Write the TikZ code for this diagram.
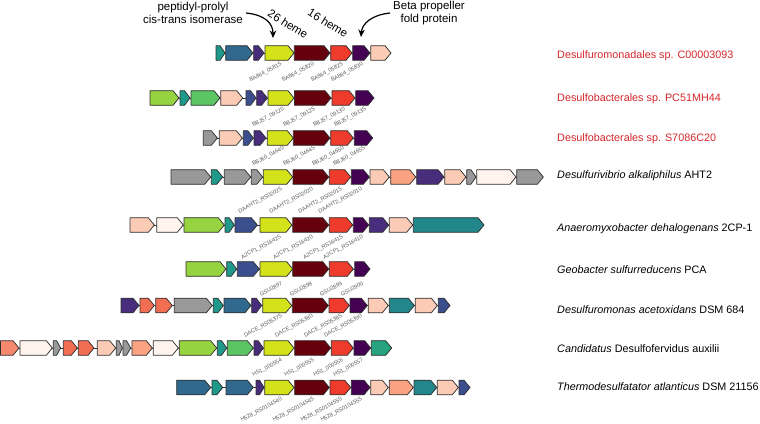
\documentclass[tikz,border=0pt]{standalone}
\usepackage{fontspec}
\setmainfont{Liberation Sans}
\usetikzlibrary{arrows.meta}
\definecolor{cteal}{HTML}{1F9A8A}
\definecolor{cteal2}{HTML}{21878A}
\definecolor{ctealgreen}{HTML}{27A37F}
\definecolor{csteel}{HTML}{31688E}
\definecolor{cnavy}{HTML}{3B4F8F}
\definecolor{cpurple}{HTML}{472D7B}
\definecolor{cdpurple}{HTML}{440154}
\definecolor{cyellow}{HTML}{D4E21A}
\definecolor{cmaroon}{HTML}{67000D}
\definecolor{cred}{HTML}{EF3B2C}
\definecolor{cpeach}{HTML}{FCCBB6}
\definecolor{csalmon}{HTML}{FBA283}
\definecolor{ccoral}{HTML}{F26E52}
\definecolor{ccoralA}{HTML}{F4896D}
\definecolor{clinen}{HTML}{FFF3EE}
\definecolor{cgray}{HTML}{999999}
\definecolor{clime}{HTML}{96D340}
\definecolor{cgreen}{HTML}{5BC563}
\definecolor{ctxtred}{HTML}{D6262B}
\definecolor{coutline}{HTML}{303030}
\newcommand\gn[4]{%
  \pgfmathsetmacro\ghead{min(6,0.55*(#2-#1))}%
  \draw[gene,fill=#4] (#1,#3-7.3) -- ({#2-\ghead},#3-7.3) -- (#2,#3) -- ({#2-\ghead},#3+7.3) -- (#1,#3+7.3) -- cycle;}
\newcommand\grow[2]{\foreach \a/\b/\c in {#2}{\gn{\a}{\b}{#1}{\c}}}
\tikzset{
  gene/.style={draw=coutline,line width=0.75pt,line join=round},
  backbone/.style={draw=coutline,line width=0.6pt},
  locus/.style={font=\fontsize{5.6}{6}\selectfont,text=black!65,inner sep=0pt,anchor=east,rotate=28},
  species/.style={font=\fontsize{10.8}{12}\selectfont,anchor=west,inner sep=0pt},
  redsp/.style={species,text=ctxtred},
  topnote/.style={font=\fontsize{11.5}{13}\selectfont,align=center,inner sep=0pt},
  curvarrow/.style={line width=1.2pt,-{Stealth[length=7.5pt,width=6.5pt]}},
}
\begin{document}
\begin{tikzpicture}[x=1pt,y=-1pt]
\useasboundingbox (0,0) rectangle (760,423);
% top annotations
\node[topnote] (ppi) at (193,13) {peptidyl-prolyl\\cis-trans isomerase};
\node[topnote] (beta) at (429,13) {Beta propeller\\fold protein};
\node[topnote,rotate=-32] (h26) at (288,24) {26 heme};
\node[topnote,rotate=-32] (h16) at (328,23) {16 heme};
\coordinate (ppitip) at (273,38);
\coordinate (betatip) at (361,37);
\draw[curvarrow] ([xshift=3pt]ppi.east) .. controls (266,15) and (273,24) .. (ppitip);
\draw[curvarrow] ([xshift=-3pt]beta.west) .. controls (371,15) and (362,24) .. (betatip);
% row 1
\draw[backbone] (216,53) -- (391,53);
\grow{53}{216/225/cteal, 225.7/253/csteel, 253.7/264/cpurple, 265/294/cyellow, 294.3/330/cmaroon, 330.7/352/cred, 352.7/370/cdpurple, 370.7/391/cpeach}
\foreach \x/\t [count=\i] in {281.5/BA864\_05815, 314/BA864\_05820, 343/BA864\_05825, 363/BA864\_05830}
  \node[locus] (la\i) at (\x,64) {\t};
\node[redsp] (sp1) at (557,56) {Desulfuromonadales sp. C00003093};
% row 2
\draw[backbone] (150,98) -- (374,98);
\grow{98}{150/179/clime, 180/190/cteal, 191/220/cgreen, 220.7/242.7/cpeach, 246/256/cnavy, 256.7/267.3/cpurple, 268/294/cyellow, 294.5/331/cmaroon, 332/355/cred, 355.7/374/cdpurple}
\foreach \x/\t [count=\i] in {284/BBJ57\_09120, 315/BBJ57\_09125, 345/BBJ57\_09130, 366/BBJ57\_09135}
  \node[locus] (lb\i) at (\x,109) {\t};
\node[redsp] (sp2) at (557,99) {Desulfobacterales sp. PC51MH44};
% row 3
\draw[backbone] (203.3,138) -- (372.7,138);
\grow{138}{203.3/217.3/cgray, 219.3/242.3/cpeach, 243.3/253.3/cnavy, 254/266/cpurple, 267.3/293.3/cyellow, 293.3/330/cmaroon, 330.7/353.3/cred, 354.3/372.7/cdpurple}
\foreach \x/\t [count=\i] in {284/BBJ60\_04640, 315/BBJ60\_04645, 344/BBJ60\_04650, 365/BBJ60\_04655}
  \node[locus] (lc\i) at (\x,148) {\t};
\node[redsp] (sp3) at (557,139) {Desulfobacterales sp. S7086C20};
% row 4
\draw[backbone] (171,177) -- (543.3,177);
\grow{177}{171/210.7/cgray, 211.3/222.7/cteal, 224.3/250.7/cgray, 251.3/262.7/cgray, 263.3/292.7/cyellow, 293/328.7/cmaroon, 329.3/350.7/cred, 351.3/369.3/cdpurple, 370/389.3/cpeach, 390.7/415.7/csalmon, 416.7/444/cpurple, 444.7/466/cpeach, 466.7/476/cgray, 476.7/516/clinen, 516.7/543.3/cgray}
\foreach \x/\t [count=\i] in {282/DAAHT2\_RS02025, 313/DAAHT2\_RS02020, 342/DAAHT2\_RS02015, 362/DAAHT2\_RS02010}
  \node[locus] (ld\i) at (\x,189) {\t};
\node[species] (sp4) at (557,176) {\textit{Desulfurivibrio alkaliphilus} AHT2};
% row 5
\draw[backbone] (130,225) -- (484,225);
\grow{225}{130/154.3/cpeach, 156.7/183.3/clinen, 184/224.3/clime, 225/234.3/cteal, 235/257.3/cnavy, 260/292/cyellow, 292.7/328.7/cmaroon, 329.3/352.7/cred, 353.3/368.7/cdpurple, 369.3/388.7/cpurple, 389.3/412.7/cpeach, 413.3/484/cteal2}
\foreach \x/\t [count=\i] in {281/A2CP1\_RS16425, 313/A2CP1\_RS16420, 343/A2CP1\_RS16415, 363/A2CP1\_RS16410}
  \node[locus] (le\i) at (\x,237) {\t};
\node[species] (sp5) at (557,229) {\textit{Anaeromyxobacter dehalogenans} 2CP-1};
% row 6
\draw[backbone] (186,269) -- (370,269);
\grow{269}{186/226/clime, 226.7/236.7/cteal, 237.3/259.3/cnavy, 260/292.7/cyellow, 292.7/328.7/cmaroon, 329.3/353.3/cred, 354.7/370/cdpurple}
\foreach \x/\t [count=\i] in {282/GSU2897, 312/GSU2898, 342/GSU2899, 363/GSU2900}
  \node[locus] (lf\i) at (\x,283) {\t};
\node[species] (sp6) at (557,270) {\textit{Geobacter sulfurreducens} PCA};
% row 7
\draw[backbone] (121,305.5) -- (450,305.5);
\grow{305.5}{121/139/cpurple, 140/154.3/ccoral, 155.7/172.3/ccoral, 174.3/212.3/cgray, 213.3/223.3/cteal, 224/251/csteel, 251.7/261.7/cpurple, 262.7/291.7/cyellow, 292.3/328.3/cmaroon, 329/349.3/cred, 350/367.3/cdpurple, 368.3/388.3/cpeach, 389.3/414.3/cteal2, 415.3/437.3/cpeach, 438.3/450/cnavy}
\foreach \x/\t [count=\i] in {282/DACE\_RS05375, 313/DACE\_RS05380, 342/DACE\_RS05385, 362/DACE\_RS05390}
  \node[locus] (lg\i) at (\x,316) {\t};
\node[species] (sp7) at (557,310) {\textit{Desulfuromonas acetoxidans} DSM 684};
% row 8
\draw[backbone] (0.5,348) -- (391.7,348);
\grow{348}{0.5/19/ccoralA, 20/52.3/clinen, 53.3/60.7/cgray, 63.3/77.3/ccoral, 78.3/94/ccoral, 97.3/115.7/cpeach, 116.3/122.3/cgray, 123/130.7/cgray, 132/152.3/csalmon, 153.3/178.3/clinen, 179.3/216.7/clime, 217.3/226.7/cteal, 227.3/253.3/cgreen, 254/263.3/cpurple, 264/294/cyellow, 294.7/330.7/cmaroon, 331.3/353.3/cred, 354/370.7/cdpurple, 371.3/391.7/ctealgreen}
\foreach \x/\t [count=\i] in {282/HS1\_000554, 314/HS1\_000555, 343/HS1\_000556, 363/HS1\_000557}
  \node[locus] (lh\i) at (\x,360) {\t};
\node[species] (sp8) at (557,349) {\textit{Candidatus} Desulfofervidus auxilii};
% row 9
\draw[backbone] (176.7,387.5) -- (470,387.5);
\grow{387.5}{176.7/210.7/csteel, 212/222.7/cteal, 226/253.3/csteel, 256/264/cpurple, 264.7/294/cyellow, 294.7/329.3/cmaroon, 330/350.7/cred, 351.3/370/cdpurple, 370.7/388.3/cpeach, 389.3/413.3/csalmon, 414/436.7/cteal2, 437.3/458.3/cpeach, 459/470/cnavy}
\foreach \x/\t [count=\i] in {282/H528\_RS0104540, 314/H528\_RS0104545, 342/H528\_RS0104550, 362/H528\_RS0104555}
  \node[locus] (li\i) at (\x,399) {\t};
\node[species] (sp9) at (557,387) {\textit{Thermodesulfatator atlanticus} DSM 21156};
\end{tikzpicture}
\end{document}
